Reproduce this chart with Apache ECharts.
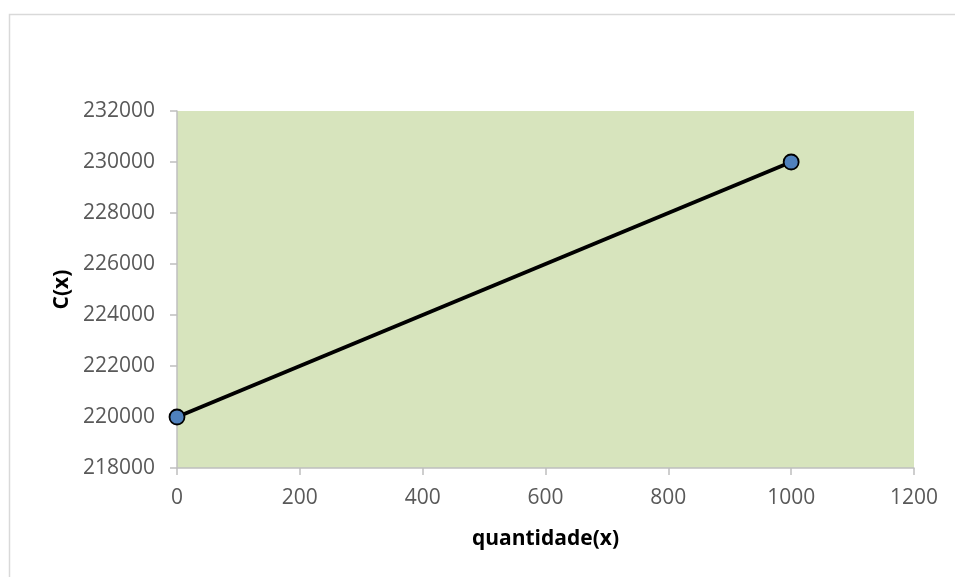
<!DOCTYPE html>
<html>
<head>
<meta charset="utf-8">
<script src="https://cdn.jsdelivr.net/npm/echarts@6/dist/echarts.min.js"></script>
<style>
  html, body { margin: 0; padding: 0; background: #ffffff; }
  #chart { width: 955px; height: 577px; }
</style>
</head>
<body>
<div id="chart"></div>
<script>
// Custo total C(x) em função da quantidade x
const quantidade = [0, 1000];
const custo = [220000, 230000];

const xAxisMin = 0, xAxisMax = 1200, xAxisStep = 200;
const yAxisMin = 218000, yAxisMax = 232000, yAxisStep = 2000;

const xTitle = 'quantidade(x)';
const yTitle = 'C(x)';

const fontFamily = '"Open Sans", "Liberation Sans", sans-serif';
const labelColor = '#595959';
const axisColor = '#BFBFBF';

const points = quantidade.map((q, i) => [q, custo[i]]);
const plain = v => String(v);

const chart = echarts.init(document.getElementById('chart'), null, { renderer: 'canvas' });

chart.setOption({
  animation: false,
  backgroundColor: '#ffffff',
  graphic: [{
    type: 'rect',
    left: 7, top: 12,
    shape: { x: 0, y: 0, width: 980, height: 600 },
    style: { fill: 'none', stroke: '#D9D9D9', lineWidth: 1.5 },
    silent: true,
    z: -1
  }],
  grid: {
    left: 177, top: 111, right: 41, bottom: 109,
    show: true,
    backgroundColor: '#D7E4BD',
    borderWidth: 0
  },
  xAxis: {
    type: 'value',
    min: xAxisMin, max: xAxisMax, interval: xAxisStep,
    name: xTitle,
    nameLocation: 'middle',
    nameGap: 61,
    nameTextStyle: { fontFamily, fontSize: 21, fontWeight: 'bold', color: '#000000' },
    axisLine: { show: true, lineStyle: { color: axisColor, width: 1.5 } },
    axisTick: { show: true, length: 7, lineStyle: { color: axisColor, width: 1.5 } },
    axisLabel: { margin: 20, fontFamily, fontSize: 21, color: labelColor, formatter: plain },
    splitLine: { show: false }
  },
  yAxis: {
    type: 'value',
    min: yAxisMin, max: yAxisMax, interval: yAxisStep,
    name: yTitle,
    nameLocation: 'middle',
    nameGap: 100,
    nameTextStyle: { fontFamily, fontSize: 21, fontWeight: 'bold', color: '#000000' },
    axisLine: { show: true, lineStyle: { color: axisColor, width: 1.5 } },
    axisTick: { show: true, length: 7, lineStyle: { color: axisColor, width: 1.5 } },
    axisLabel: { margin: 22, fontFamily, fontSize: 21, color: labelColor, formatter: plain },
    splitLine: { show: false }
  },
  series: [{
    type: 'line',
    data: points,
    symbol: 'circle',
    symbolSize: 15,
    lineStyle: { color: '#000000', width: 4 },
    itemStyle: { color: '#4F81BD', borderColor: '#000000', borderWidth: 1.8 },
    z: 3
  }]
});
</script>
</body>
</html>
